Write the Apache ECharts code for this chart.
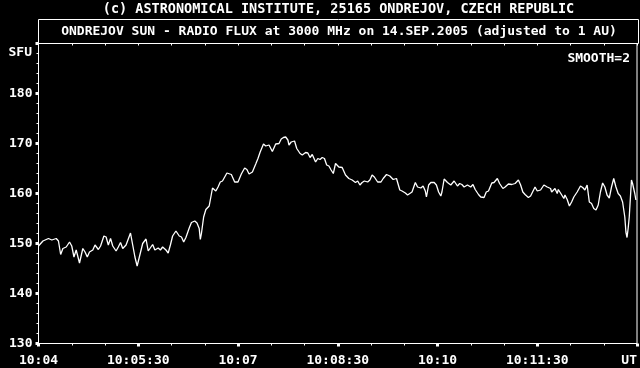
<!DOCTYPE html>
<html>
<head>
<meta charset="utf-8">
<script src="https://cdn.jsdelivr.net/npm/echarts@6/dist/echarts.min.js"></script>
<style>
html,body{margin:0;padding:0;background:#000;}
#c{width:640px;height:368px;}
</style>
</head>
<body>
<div id="c"></div>
<script>
// seconds after 10:04:00 UT
var times = [0,1,4,9,12,16,18,20,22,25,26,28,30,32,34,37,40,42,44,46,49,51,54,56,59,61,63,65,67,70,72,74,76,79,83,85,87,89,91,94,97,99,103,105,108,110,112,115,117,119,121,124,127,129,131,133,136,138,141,143,145,146,147,149,151,154,157,160,162,164,166,170,174,177,180,
183,186,188,190,193,196,198,200,203,205,208,211,214,217,219,221,223,225,226,228,231,233,236,238,241,243,245,247,250,252,254,256,258,260,262,264,266,268,271,274,277,280,283,286,288,290,292,294,297,299,301,303,306,309,311,314,317,320,323,326,328,331,333,335,337,340,342,345,347,349,350,352,354,357,359,361,
363,364,366,369,372,375,378,380,382,384,387,388,390,392,394,397,399,402,404,406,409,411,414,416,419,421,424,427,430,433,435,437,439,442,444,445,448,450,453,456,459,462,463,466,468,469,471,474,475,477,479,481,483,486,489,491,493,495,497,499,501,503,505,507,509,511,513,515,517,519,521,523,525,527,529,530,531,532,533,535,536,538,539];
var flux = [149.5,149.9,150.5,151.0,150.7,151.0,150.5,147.8,149.0,149.3,149.0,150.3,149.5,147.3,148.7,146.1,149.0,148.3,147.3,148.3,148.7,149.7,148.8,149.5,151.5,151.3,149.7,151.0,149.5,148.5,149.3,150.2,149.0,149.7,152.1,149.7,147.3,145.5,147.3,150.0,150.9,148.5,149.8,148.7,149.1,148.7,149.3,148.7,148.1,149.7,151.5,152.5,151.5,151.3,150.3,151.2,153.1,154.2,154.5,154.1,153.0,150.8,152.0,155.3,156.8,157.5,161.1,160.5,161.3,162.3,162.5,164.1,163.8,162.3,162.3,
163.9,165.1,164.8,163.9,164.3,165.9,167.0,168.3,169.9,169.5,169.7,168.4,169.9,170.0,170.9,171.2,171.3,170.7,169.7,170.3,170.5,169.0,168.0,167.7,168.2,168.1,167.2,167.8,166.3,167.0,166.8,167.2,167.0,165.7,165.5,164.7,164.0,166.0,165.3,165.2,163.7,163.0,162.7,162.2,162.5,161.7,162.2,162.5,162.3,162.7,163.7,163.3,162.3,162.3,163.0,163.8,163.5,162.8,163.0,160.7,160.5,160.1,159.7,160.0,160.3,162.2,161.3,161.1,161.5,160.5,159.3,161.7,162.2,162.2,161.7,160.3,
159.5,160.3,162.9,162.2,161.7,162.5,161.5,162.0,161.8,161.3,161.7,162.1,161.3,161.8,160.8,159.8,159.3,159.2,160.3,160.5,162.1,162.2,163.0,162.0,161.0,161.3,161.9,161.8,162.0,162.7,161.7,160.3,159.8,159.2,159.5,159.9,161.3,160.5,160.7,161.7,161.3,161.0,160.3,161.0,160.0,160.8,160.1,159.0,159.7,158.8,157.5,158.3,159.3,160.3,161.5,161.2,160.7,161.7,158.3,158.0,157.0,156.7,157.7,160.3,162.1,161.3,159.7,159.1,161.3,163.0,161.3,160.0,159.5,158.3,155.3,152.3,151.2,153.0,155.3,162.7,162.0,160.0,158.7];
var xTickLabels = ['10:04','10:05:30','10:07','10:08:30','10:10','10:11:30','UT'];
var yTickLabels = ['130','140','150','160','170','180',''];
var credit = '(c) ASTRONOMICAL INSTITUTE, 25165 ONDREJOV, CZECH REPUBLIC';
var title = 'ONDREJOV SUN - RADIO FLUX at 3000 MHz on 14.SEP.2005 (adjusted to 1 AU)';
var unitLabel = 'SFU';
var smoothLabel = 'SMOOTH=2';

var data = times.map(function(t,i){return [t, flux[i]];});
var FONT = 'DejaVu Sans Mono';
var chart = echarts.init(document.getElementById('c'), null, {renderer:'canvas'});
chart.setOption({
  backgroundColor:'#000',
  animation:false,
  grid:{left:38.5,top:43.5,right:1.5,bottom:24.5,show:true,borderColor:'#fff',borderWidth:1,backgroundColor:'transparent'},
  graphic:[
    {type:'text',style:{x:338.5,y:9,text:credit,fill:'#fff',font:'bold 13.5px "'+FONT+'"',textAlign:'center',textVerticalAlign:'middle'}},
    {type:'rect',shape:{x:38.5,y:19.5,width:600,height:24},style:{fill:'none',stroke:'#fff',lineWidth:1}},
    {type:'text',style:{x:339,y:32,text:title,fill:'#fff',font:'bold 13px "'+FONT+'"',textAlign:'center',textVerticalAlign:'middle'}},
    {type:'text',style:{x:32,y:52.5,text:unitLabel,fill:'#fff',font:'bold 13px "'+FONT+'"',textAlign:'right',textVerticalAlign:'middle'}},
    {type:'text',style:{x:630,y:58.5,text:smoothLabel,fill:'#fff',font:'bold 13px "'+FONT+'"',textAlign:'right',textVerticalAlign:'middle'}}
  ],
  xAxis:[{
    type:'value',min:0,max:540,interval:90,position:'bottom',
    axisLine:{show:true,lineStyle:{color:'#fff',width:1}},
    axisTick:{show:true,length:3,lineStyle:{color:'#fff',width:3}},
    minorTick:{show:true,splitNumber:3,length:2,lineStyle:{color:'#fff',width:1}},
    splitLine:{show:false},minorSplitLine:{show:false},
    axisLabel:{color:'#fff',fontFamily:FONT,fontWeight:'bold',fontSize:13,margin:11,alignMaxLabel:'right',
      formatter:function(v){return xTickLabels[Math.round(v/90)]||'';}}
  },{
    type:'value',min:0,max:540,interval:30,position:'top',
    axisLine:{show:true,lineStyle:{color:'#fff',width:1}},
    axisTick:{show:true,inside:true,length:2,lineStyle:{color:'#fff',width:1}},
    axisLabel:{show:false},splitLine:{show:false}
  }],
  yAxis:{
    type:'value',min:130,max:190,interval:10,
    axisLine:{show:true,lineStyle:{color:'#fff',width:1}},
    axisTick:{show:true,length:3,lineStyle:{color:'#fff',width:3}},
    minorTick:{show:true,splitNumber:5,length:2,lineStyle:{color:'#fff',width:1}},
    splitLine:{show:false},
    axisLabel:{color:'#fff',fontFamily:FONT,fontWeight:'bold',fontSize:13,margin:6,
      formatter:function(v){return yTickLabels[Math.round((v-130)/10)]||'';}}
  },
  series:[{type:'line',data:data,xAxisIndex:0,showSymbol:false,symbol:'none',lineStyle:{color:'#fff',width:1.3},smooth:false}]
});
</script>
</body>
</html>
